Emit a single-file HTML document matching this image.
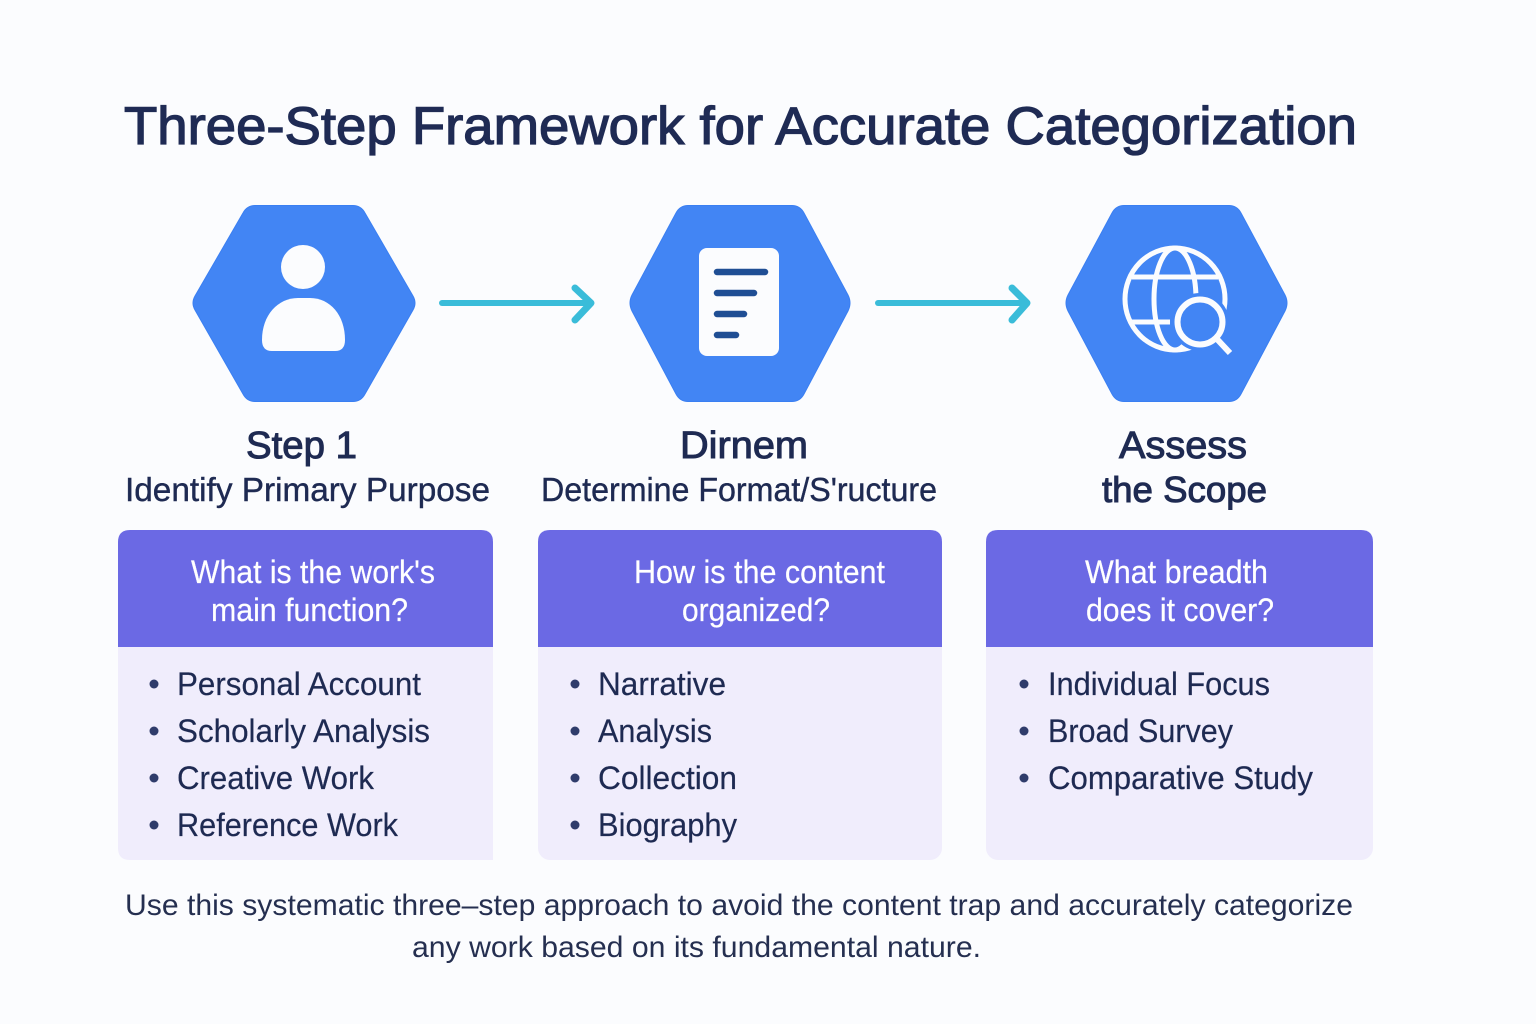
<!DOCTYPE html>
<html><head><meta charset="utf-8"><style>
html,body{margin:0;padding:0;background:#fbfcfe}
svg{display:block}
text{font-family:"Liberation Sans",sans-serif}
.t{fill:#1f2b54;font-weight:400;font-size:53px;stroke:#1f2b54;stroke-width:1.3px}
.h{fill:#1e2a52;font-size:38px;font-weight:400;stroke:#1e2a52;stroke-width:1px}
.s{fill:#1e2a52;font-size:33px;stroke:#1e2a52;stroke-width:.4px}
.q{fill:#fff;font-size:32px;stroke:#fff;stroke-width:.2px}
.l{fill:#1e2a52;font-size:32px;stroke:#1e2a52;stroke-width:.2px}
.f{fill:#252f50;font-size:30px}
</style></head><body>
<svg width="1536" height="1024" viewBox="0 0 1536 1024" xmlns="http://www.w3.org/2000/svg">
<rect width="1536" height="1024" fill="#fbfcfe"/>
<text class="t" x="124" y="144" textLength="1233" lengthAdjust="spacingAndGlyphs">Three-Step Framework for Accurate Categorization</text>

<g fill="#4285f4" stroke="#3a7ff2" stroke-width="1" stroke-linejoin="round">
<path d="M195 296 L243 213 Q247 205.500 255 205.500 L353 205.500 Q361 205.500 365 213 L413 296 Q417 303 413 310 L365 394 Q361 401.500 353 401.500 L255 401.500 Q247 401.500 243 394 L195 310 Q191 303 195 296Z"/>
<path d="M632 295 L676 213 Q680 205.500 688 205.500 L792 205.500 Q800 205.500 804 213 L848 295 Q852 303 848 311 L804 394 Q800 401.500 792 401.500 L688 401.500 Q680 401.500 676 394 L632 311 Q628 303 632 295Z"/>
<path d="M1068 295 L1112 213 Q1116 205.500 1124 205.500 L1229 205.500 Q1237 205.500 1241 213 L1285 295 Q1289 303 1285 311 L1241 394 Q1237 401.500 1229 401.500 L1124 401.500 Q1116 401.500 1112 394 L1068 311 Q1064 303 1068 295Z"/>
</g>

<circle cx="303" cy="267" r="22" fill="#fbfcfe"/>
<path d="M262 340 C262 315 278 298 298 298 L310 298 C330 298 345 315 345 340 Q345 351 335 351 L272 351 Q262 351 262 340Z" fill="#fbfcfe"/>

<rect x="699" y="248" width="80" height="108" rx="8" fill="#fbfcfe"/>
<g stroke="#1f4e94" stroke-width="6.500" stroke-linecap="round">
<line x1="717" y1="272" x2="765" y2="272"/>
<line x1="717" y1="293" x2="754" y2="293"/>
<line x1="717" y1="314" x2="744" y2="314"/>
<line x1="717" y1="335" x2="736" y2="335"/>
</g>

<g fill="none" stroke="#fbfcfe" stroke-width="5">
<ellipse cx="1175" cy="299" rx="50" ry="51"/>
<ellipse cx="1175" cy="299" rx="21" ry="51"/>
<line x1="1132" y1="277" x2="1218" y2="277"/>
<line x1="1130" y1="322" x2="1170" y2="322"/>
</g>
<circle cx="1200" cy="322" r="29" fill="#4285f4"/>
<circle cx="1200" cy="322" r="22.500" fill="#4285f4" stroke="#fbfcfe" stroke-width="6"/>
<line x1="1216" y1="338" x2="1230" y2="353" stroke="#fbfcfe" stroke-width="6"/>

<g fill="none" stroke="#3abcd9" stroke-linecap="round" stroke-linejoin="round">
<line x1="442" y1="303" x2="590" y2="303" stroke-width="6"/>
<path d="M575 288 L591 303 L575 320" stroke-width="7"/>
<line x1="878" y1="303" x2="1026" y2="303" stroke-width="6"/>
<path d="M1012 288 L1027 303 L1012 320" stroke-width="7"/>
</g>

<text class="h" x="246" y="458" textLength="111" lengthAdjust="spacingAndGlyphs">Step 1</text>
<text class="s" x="125" y="501" textLength="365" lengthAdjust="spacingAndGlyphs">Identify Primary Purpose</text>
<text class="h" x="680" y="458" textLength="128" lengthAdjust="spacingAndGlyphs">Dirnem</text>
<text class="s" x="541" y="501" textLength="396" lengthAdjust="spacingAndGlyphs">Determine Format/S'ructure</text>
<text class="h" x="1119" y="458" textLength="128" lengthAdjust="spacingAndGlyphs">Assess</text>
<text class="h" x="1102" y="502" textLength="165" lengthAdjust="spacingAndGlyphs" style="font-size:36px">the Scope</text>

<path d="M118 646 L118 542 Q118 530 130 530 L481 530 Q493 530 493 542 L493 860 L130 860 Q118 860 118 848Z" fill="#f0edfc"/>
<path d="M118 647 L118 542 Q118 530 130 530 L481 530 Q493 530 493 542 L493 647Z" fill="#6b69e4"/>
<rect x="538" y="530" width="404" height="330" rx="12" fill="#f0edfc"/>
<path d="M538 647 L538 542 Q538 530 550 530 L930 530 Q942 530 942 542 L942 647Z" fill="#6b69e4"/>
<rect x="986" y="530" width="387" height="330" rx="12" fill="#f0edfc"/>
<path d="M986 647 L986 542 Q986 530 998 530 L1361 530 Q1373 530 1373 542 L1373 647Z" fill="#6b69e4"/>

<text class="q" x="191" y="583" textLength="244" lengthAdjust="spacingAndGlyphs">What is the work's</text>
<text class="q" x="211" y="621" textLength="197" lengthAdjust="spacingAndGlyphs">main function?</text>
<text class="q" x="634" y="583" textLength="251" lengthAdjust="spacingAndGlyphs">How is the content</text>
<text class="q" x="682" y="621" textLength="148" lengthAdjust="spacingAndGlyphs">organized?</text>
<text class="q" x="1085" y="583" textLength="183" lengthAdjust="spacingAndGlyphs">What breadth</text>
<text class="q" x="1086" y="621" textLength="188" lengthAdjust="spacingAndGlyphs">does it cover?</text>

<g fill="#2f3c6b">
<circle cx="154" cy="684" r="4.500"/><circle cx="154" cy="731" r="4.500"/><circle cx="154" cy="778" r="4.500"/><circle cx="154" cy="825" r="4.500"/>
<circle cx="575" cy="684" r="4.500"/><circle cx="575" cy="731" r="4.500"/><circle cx="575" cy="778" r="4.500"/><circle cx="575" cy="825" r="4.500"/>
<circle cx="1024" cy="684" r="4.500"/><circle cx="1024" cy="731" r="4.500"/><circle cx="1024" cy="778" r="4.500"/>
</g>
<text class="l" x="177" y="695" textLength="244" lengthAdjust="spacingAndGlyphs">Personal Account</text>
<text class="l" x="177" y="742" textLength="253" lengthAdjust="spacingAndGlyphs">Scholarly Analysis</text>
<text class="l" x="177" y="789" textLength="197" lengthAdjust="spacingAndGlyphs">Creative Work</text>
<text class="l" x="177" y="836" textLength="221" lengthAdjust="spacingAndGlyphs">Reference Work</text>
<text class="l" x="598" y="695" textLength="128" lengthAdjust="spacingAndGlyphs">Narrative</text>
<text class="l" x="598" y="742" textLength="114" lengthAdjust="spacingAndGlyphs">Analysis</text>
<text class="l" x="598" y="789" textLength="139" lengthAdjust="spacingAndGlyphs">Collection</text>
<text class="l" x="598" y="836" textLength="139" lengthAdjust="spacingAndGlyphs">Biography</text>
<text class="l" x="1048" y="695" textLength="222" lengthAdjust="spacingAndGlyphs">Individual Focus</text>
<text class="l" x="1048" y="742" textLength="185" lengthAdjust="spacingAndGlyphs">Broad Survey</text>
<text class="l" x="1048" y="789" textLength="265" lengthAdjust="spacingAndGlyphs">Comparative Study</text>

<text class="f" x="125" y="915" textLength="1228" lengthAdjust="spacingAndGlyphs">Use this systematic three–step approach to avoid the content trap and accurately categorize</text>
<text class="f" x="412" y="957" textLength="569" lengthAdjust="spacingAndGlyphs">any work based on its fundamental nature.</text>
</svg>
</body></html>
